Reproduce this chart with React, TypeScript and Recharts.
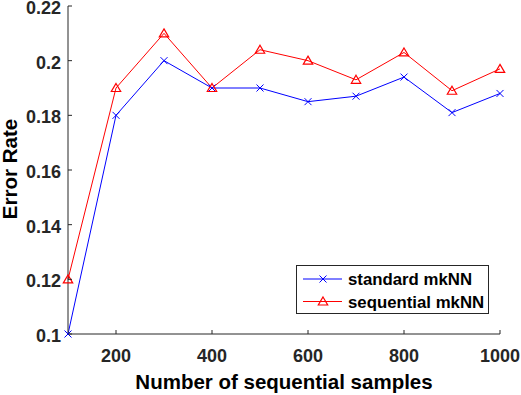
import { LineChart, Line, XAxis, YAxis, Legend } from 'recharts';

const samples = [100, 200, 300, 400, 500, 600, 700, 800, 900, 1000];
const standardErr = [0.1, 0.18, 0.2, 0.19, 0.19, 0.185, 0.187, 0.194, 0.181, 0.188];
const sequentialErr = [0.12, 0.19, 0.21, 0.19, 0.204, 0.2, 0.193, 0.203, 0.189, 0.197];
const xTicks = [200, 400, 600, 800, 1000];
const yTicks = [0.1, 0.12, 0.14, 0.16, 0.18, 0.2, 0.22];
const yTickLabels = ['0.1', '0.12', '0.14', '0.16', '0.18', '0.2', '0.22'];
const seriesNames = ['standard mkNN', 'sequential mkNN'];

const data = samples.map((n, i) => ({ n, standard: standardErr[i], sequential: sequentialErr[i] }));

const FONT = '"Liberation Sans", Arial, sans-serif';
const INK = '#262626';
const TICK = 4;

function cross(cx: number, cy: number, color: string, key?: any) {
  const s = 3.5;
  return <path key={key} d={`M${cx - s},${cy - s}L${cx + s},${cy + s}M${cx - s},${cy + s}L${cx + s},${cy - s}`} stroke={color} strokeWidth={1} fill="none" />;
}

function triangle(cx: number, cy: number, color: string, key?: any) {
  return <path key={key} d={`M${cx},${cy - 4.5}L${cx + 4.7},${cy + 3.5}L${cx - 4.7},${cy + 3.5}Z`} stroke={color} strokeWidth={1.2} fill="none" />;
}

const BottomTick = (p: any) => (
  <g>
    <line x1={p.x} y1={p.y} x2={p.x} y2={p.y - TICK} stroke={INK} />
    <text x={p.x} y={p.y + 28} textAnchor="middle" fill={INK} fontFamily={FONT} fontWeight="bold" fontSize={18}>{p.payload.value}</text>
  </g>
);
const TopTick = (p: any) => <line x1={p.x} y1={p.y} x2={p.x} y2={p.y + TICK} stroke={INK} />;
const LeftTick = (p: any) => (
  <g>
    <line x1={p.x} y1={p.y} x2={p.x + TICK} y2={p.y} stroke={INK} />
    <text x={p.x - 7} y={p.y + 8} textAnchor="end" fill={INK} fontFamily={FONT} fontWeight="bold" fontSize={18}>
      {yTickLabels[yTicks.indexOf(p.payload.value)] ?? p.payload.value}
    </text>
  </g>
);
const RightTick = (p: any) => <line x1={p.x} y1={p.y} x2={p.x - TICK} y2={p.y} stroke={INK} />;

const LegendBox = () => (
  <div style={{ width: 193, height: 49, boxSizing: 'border-box', border: `1px solid ${INK}`, background: '#fff' }}>
    <svg width={191} height={47} style={{ display: 'block' }}>
      {seriesNames.map((name, i) => {
        const y = 13 + i * 22.5;
        const color = i === 0 ? '#0000ff' : '#ff0000';
        return (
          <g key={name}>
            <line x1={6} x2={45} y1={y} y2={y} stroke={color} />
            {i === 0 ? cross(26, y, color) : triangle(26, y, color)}
            <text x={51} y={y + 6} fill="#000" fontFamily={FONT} fontWeight="bold" fontSize={16.8}>{name}</text>
          </g>
        );
      })}
    </svg>
  </div>
);

export default function App() {
  return (
    <div style={{ position: 'absolute', left: 0, top: 0, background: '#fff' }}>
      <LineChart width={521} height={395} data={data} margin={{ top: 6, right: 21, left: 0, bottom: 0 }}>
        <XAxis dataKey="n" type="number" domain={[100, 1000]} ticks={xTicks} height={61} tickSize={0} tickMargin={0}
          axisLine={{ stroke: INK }} tickLine={false} tick={BottomTick} interval={0}
          label={{ content: (p: any) => (
            <text x={p.viewBox.x + p.viewBox.width / 2} y={p.viewBox.y + 55} textAnchor="middle" fill="#000" fontFamily={FONT} fontWeight="bold" fontSize={20.5}>
              Number of sequential samples
            </text>
          ) }} />
        <XAxis xAxisId="top" orientation="top" dataKey="n" type="number" domain={[100, 1000]} ticks={xTicks} height={0}
          tickSize={0} tickMargin={0} axisLine={{ stroke: INK }} tickLine={false} tick={TopTick} interval={0} />
        <YAxis type="number" domain={[0.1, 0.22]} ticks={yTicks} width={68} tickSize={0} tickMargin={0}
          axisLine={{ stroke: INK }} tickLine={false} tick={LeftTick} interval={0}
          label={{ content: (p: any) => {
            const cx = 17;
            const cy = p.viewBox.y + p.viewBox.height / 2 - 1;
            return (
              <text x={cx} y={cy} transform={`rotate(-90 ${cx} ${cy})`} textAnchor="middle" fill="#000" fontFamily={FONT} fontWeight="bold" fontSize={20.5}>
                Error Rate
              </text>
            );
          } }} />
        <YAxis yAxisId="right" orientation="right" type="number" domain={[0.1, 0.22]} ticks={yTicks} width={0}
          tickSize={0} tickMargin={0} axisLine={{ stroke: INK }} tickLine={false} tick={RightTick} interval={0} />
        <Legend layout="vertical" align="center" verticalAlign="middle" content={<LegendBox />}
          wrapperStyle={{ left: 296, top: 265, width: 193, height: 49 }} />
        <Line dataKey="standard" name={seriesNames[0]} stroke="#0000ff" strokeWidth={1} isAnimationActive={false}
          dot={(p: any) => cross(p.cx, p.cy, '#0000ff', p.index)} activeDot={false} />
        <Line dataKey="sequential" name={seriesNames[1]} stroke="#ff0000" strokeWidth={1} isAnimationActive={false}
          dot={(p: any) => triangle(p.cx, p.cy, '#ff0000', p.index)} activeDot={false} />
      </LineChart>
    </div>
  );
}
